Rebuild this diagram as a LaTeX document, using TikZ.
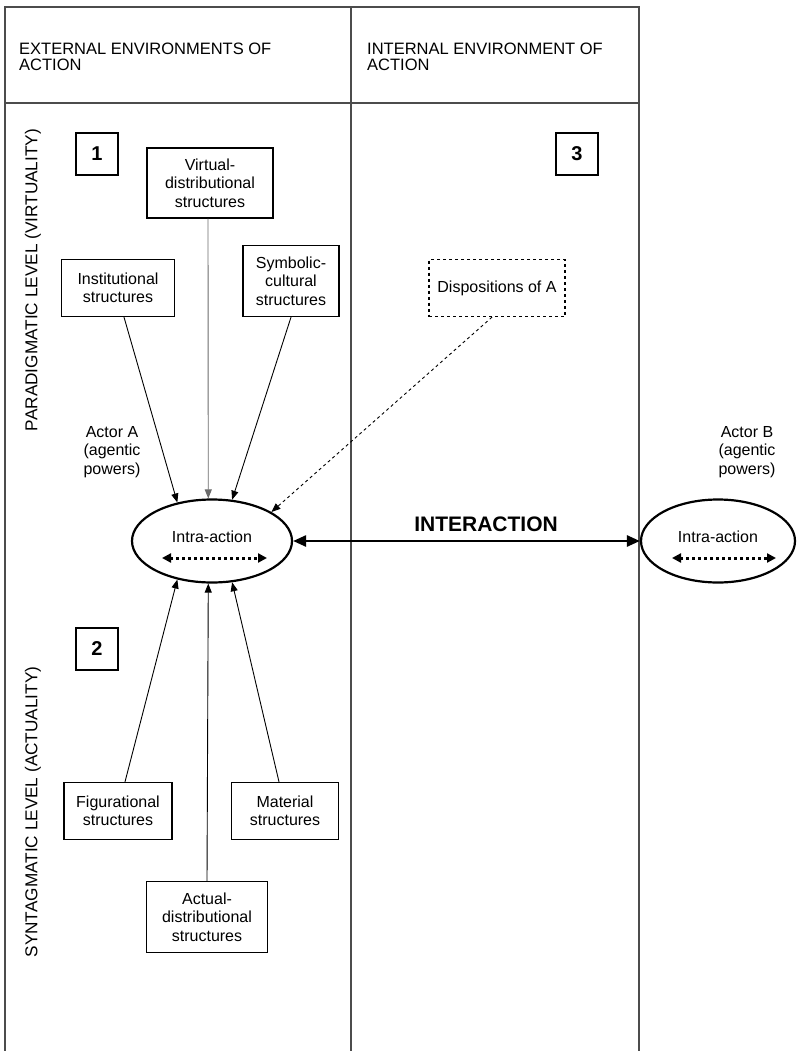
\documentclass[tikz,border=0pt]{standalone}
\usepackage{fontspec}
\setmainfont{Liberation Sans}
\usetikzlibrary{arrows.meta,shapes.geometric}

\definecolor{framegray}{gray}{0.3}
\definecolor{linegray}{gray}{0.42}

\tikzset{
    txt/.style={font=\fontsize{16}{18.5}\selectfont, align=center, inner sep=0pt},
    sbox/.style={txt, draw, line width=1.3pt, minimum width=#1},
    nbox/.style={draw, line width=1.3pt, minimum size=42pt, inner sep=0pt,
      font=\fontsize{20}{20}\selectfont\bfseries},
    intra/.style={draw, ellipse, line width=2.2pt, inner sep=0pt},
    conn/.style={line width=0.9pt, -{Triangle[length=9pt,width=7pt]}},
    dotarr/.style={line width=3pt, dash pattern=on 3pt off 3pt,
      {Triangle[length=9pt,width=9pt]}-{Triangle[length=9pt,width=9pt]}},
}

\begin{document}
\begin{tikzpicture}[x=1pt,y=-1pt]
    \useasboundingbox (0,0) rectangle (797,1051);
    % frame
    \draw[framegray, line width=1.2pt] (5,1051) -- (5,7) -- (639,7) -- (639,1051);
    \draw[framegray, line width=1.2pt] (351,7) -- (351,1051);
    \draw[framegray, line width=1.2pt] (5,103) -- (639,103);
    \node[txt, font=\fontsize{16.5}{16.5}\selectfont, anchor=west, align=left] (ext) at (19,57) {EXTERNAL ENVIRONMENTS OF\\ACTION};
    \node[txt, font=\fontsize{16.5}{16.5}\selectfont, anchor=west, align=left] (int) at (367,57) {INTERNAL ENVIRONMENT OF\\ACTION};
    \node[txt, font=\fontsize{17.2}{17.2}\selectfont, rotate=90] (para) at (33,280) {PARADIGMATIC LEVEL (VIRTUALITY)};
    \node[txt, font=\fontsize{17.2}{17.2}\selectfont, rotate=90] (synt) at (33,812) {SYNTAGMATIC LEVEL (ACTUALITY)};

    % numbered boxes
    \node[nbox] (one) at (97,154) {1};
    \node[nbox] (two) at (97,649) {2};
    \node[nbox] (three) at (577,154) {3};

    % structures
    \node[sbox=126pt, minimum height=70pt] (virt) at (210,183) {Virtual-\\distributional\\structures};
    \node[sbox=113pt, minimum height=57pt] (inst) at (118,288) {Institutional\\structures};
    \node[sbox=96pt, minimum height=71pt] (symb) at (291,281) {Symbolic-\\cultural\\structures};
    \node[sbox=136pt, minimum height=57pt, dashed] (disp) at (497,288) {Dispositions of A};
    \node[sbox=108pt, minimum height=57pt] (fig) at (118,811) {Figurational\\structures};
    \node[sbox=107pt, minimum height=57pt] (mat) at (285,811) {Material\\structures};
    \node[sbox=121pt, minimum height=71pt] (act) at (207,917) {Actual-\\distributional\\structures};

    % actors
    \node[txt] (actA) at (112,452) {Actor A\\(agentic\\powers)};
    \node[txt] (actB) at (747,452) {Actor B\\(agentic\\powers)};
    \node[intra, minimum width=160pt, minimum height=83pt] (intraA) at (212,541) {};
    \node[intra, minimum width=154pt, minimum height=83pt] (intraB) at (718,541) {};
    \node[txt] (intraAtxt) at (212,537) {Intra-action};
    \node[txt] (intraBtxt) at (718,537) {Intra-action};
    \draw[dotarr] ([xshift=-50pt,yshift=-17pt]intraA.center) -- ([xshift=55pt,yshift=-17pt]intraA.center);
    \draw[dotarr] ([xshift=-46pt,yshift=-17pt]intraB.center) -- ([xshift=58pt,yshift=-17pt]intraB.center);

    % connectors
    \draw[conn] ([xshift=6pt]inst.south) -- (intraA.132);
    \draw[conn, linegray] ([xshift=-2pt]virt.south) -- (intraA.95);
    \draw[conn] (symb.south) -- (intraA.64);
    \draw[conn, dashed] ([xshift=-5pt]disp.south) -- (intraA.26);
    \draw[conn] ([xshift=7pt]fig.north) -- (intraA.228);
    \draw[conn] (act.north) -- (intraA.265);
    \draw[conn] ([xshift=-6pt]mat.north) -- (intraA.296);
    \draw[line width=2.6pt, {Triangle[length=13pt,width=11pt]}-{Triangle[length=13pt,width=11pt]}]
      (intraA.east) -- (intraB.west);
    \node[txt, font=\fontsize{21}{21}\selectfont\bfseries] (inter) at (486,524) {INTERACTION};
\end{tikzpicture}
\end{document}
